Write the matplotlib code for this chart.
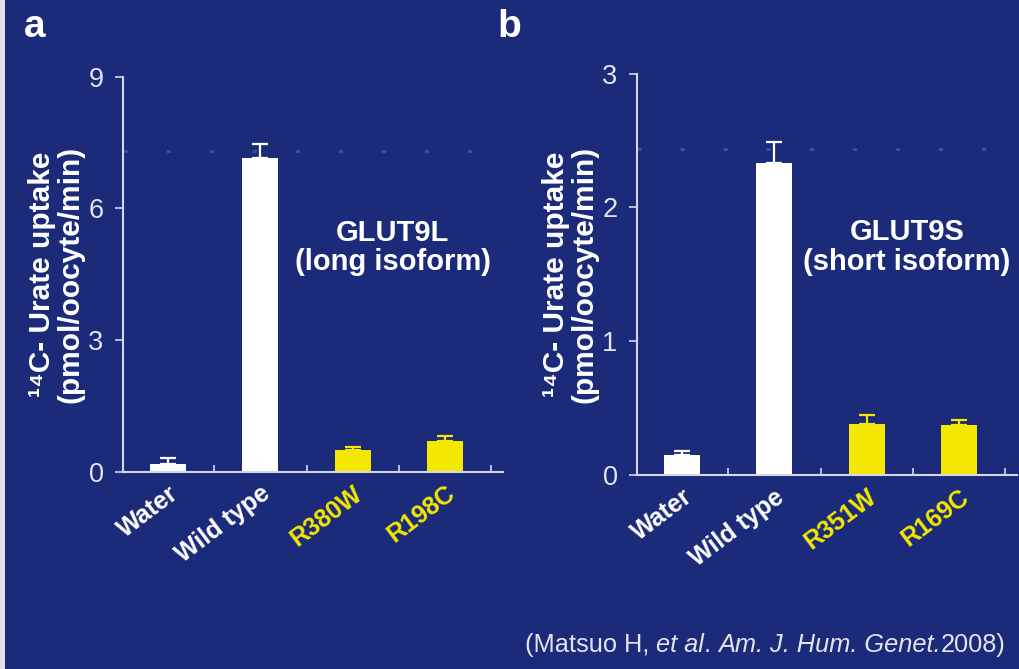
import matplotlib
matplotlib.use('Agg')
import matplotlib.pyplot as plt
from matplotlib.patches import Rectangle

plt.rcParams['font.family'] = ['Liberation Sans', 'DejaVu Sans']

BG = '#1b2b79'
WHITE = '#ffffff'
YELLOW = '#f4e800'
AXIS = '#d4d8ea'
TICKLBL = '#e2e4ee'

# panel a: GLUT9L
cats_a = ['Water', 'Wild type', 'R380W', 'R198C']
vals_a = [0.18, 7.15, 0.48, 0.70]
errs_a = [0.12, 0.32, 0.08, 0.10]
yticks_a = [0, 3, 6, 9]

# panel b: GLUT9S
cats_b = ['Water', 'Wild type', 'R351W', 'R169C']
vals_b = [0.15, 2.33, 0.38, 0.37]
errs_b = [0.03, 0.16, 0.07, 0.04]
yticks_b = [0, 1, 2, 3]

bar_colors = [WHITE, WHITE, YELLOW, YELLOW]

fig = plt.figure(figsize=(10.19, 6.69), dpi=100, facecolor=BG)
fig.add_artist(Rectangle((0, 0), 0.005, 1, transform=fig.transFigure, color='#dfe3ee', lw=0))


def panel(rect, cats, vals, errs, yticks, title):
    ax = fig.add_axes(rect)
    ax.set_facecolor(BG)
    x = range(len(cats))
    ax.bar(x, vals, width=0.39, color=bar_colors, edgecolor='none', zorder=2)
    for xi, v, e, c in zip(x, vals, errs, bar_colors):
        ax.errorbar(xi, v, yerr=[[0], [e]], fmt='none', ecolor=c, elinewidth=1.6,
                    capsize=6, capthick=1.6, zorder=3)
    ax.set_xlim(-0.49, 3.63)
    ax.set_ylim(0, yticks[-1])
    for s in ['top', 'right']:
        ax.spines[s].set_visible(False)
    for s in ['left', 'bottom']:
        ax.spines[s].set_color(AXIS)
        ax.spines[s].set_linewidth(1.5)
    ax.set_yticks(yticks)
    ax.tick_params(axis='y', colors=AXIS, length=6, width=1.2, pad=8,
                   labelsize=19.5, labelcolor=TICKLBL)
    ax.set_xticks([0.5, 1.5, 2.5, 3.5])
    ax.set_xticklabels([])
    ax.tick_params(axis='x', direction='in', colors=AXIS, length=5, width=1.2)
    for xi, c, col in zip(x, cats, bar_colors):
        ax.annotate(c, xy=(xi, 0), xycoords=('data', 'axes fraction'),
                    xytext=(0, -7), textcoords='offset points',
                    rotation=37, rotation_mode='anchor', ha='right', va='top',
                    fontsize=18, fontweight='bold', color=col)
    ax.set_ylabel('¹⁴C- Urate uptake\n(pmol/oocyte/min)', fontsize=21.5,
                  fontweight='bold', color=WHITE, linespacing=1.0)
    ax.yaxis.set_label_coords(-0.102, 0.5)
    ax.text(0.71, 0.568, title, transform=ax.transAxes, ha='center', va='center',
            fontsize=21, fontweight='bold', color=WHITE, linespacing=1.05)
    # faint dotted artifact line from the scanned slide
    ax.plot([-0.49, 3.63], [yticks[-1] * 0.812] * 2, ls=(0, (1.5, 14)), lw=2,
            color='#3d66b8', alpha=0.7, zorder=1, clip_on=False)
    return ax


panel([0.1207, 0.2952, 0.3729, 0.5900], cats_a, vals_a, errs_a, yticks_a,
      'GLUT9L\n(long isoform)')
ax_b = panel([0.6251, 0.2900, 0.3729, 0.6000], cats_b, vals_b, errs_b, yticks_b,
             'GLUT9S\n(short isoform)')

fig.text(0.0235, 0.945, 'a', fontsize=28, fontweight='bold', color=WHITE)
fig.text(0.488, 0.945, 'b', fontsize=28, fontweight='bold', color=WHITE)

# citation, mixing upright and italic runs
pieces = [('(Matsuo H, ', 'normal'), ('et al', 'italic'), ('. ', 'normal'),
          ('Am. J. Hum. Genet.', 'italic'), ('2008)', 'normal')]
prev = fig.text(0.515, 0.018, pieces[0][0], ha='left', va='bottom',
                fontsize=18.3, color=TICKLBL)
for txt, style in pieces[1:]:
    prev = ax_b.annotate(txt, xy=(1, 0), xycoords=prev, ha='left', va='bottom',
                         fontsize=18.3, fontstyle=style, color=TICKLBL,
                         annotation_clip=False)

fig.savefig('out.png', dpi=100, facecolor=BG)
